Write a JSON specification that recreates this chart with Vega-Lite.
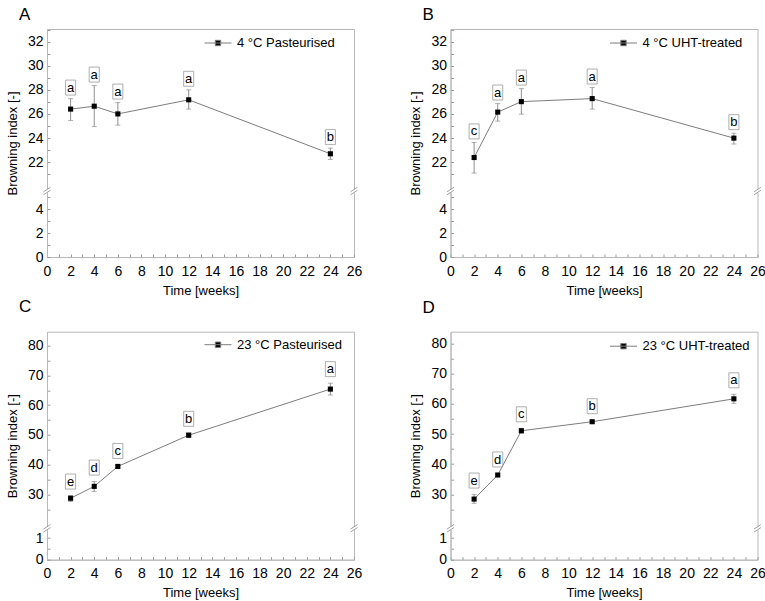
{
  "$schema": "https://vega.github.io/schema/vega-lite/v6.json",
  "background": "white",
  "padding": {"left": 5, "top": 5, "right": 5, "bottom": 0},
  "columns": 2,
  "spacing": {"row": 74.7, "column": 96.5},
  "bounds": "flush",
  "resolve": {"scale": {"color": "independent"}, "legend": {"color": "independent"}},
  "concat": [
    {
      "width": 307,
      "height": 228,
      "title": {"text": "A", "offset": -1},
      "data": {
        "values": [
          {"week": 2, "mean": 26.4, "lo": 25.45, "hi": 27.27, "letter": "a", "series": "4 °C Pasteurised"},
          {"week": 4, "mean": 26.64, "lo": 24.95, "hi": 28.35, "letter": "a", "series": "4 °C Pasteurised"},
          {"week": 6, "mean": 26.0, "lo": 25.07, "hi": 26.94, "letter": "a", "series": "4 °C Pasteurised"},
          {"week": 12, "mean": 27.17, "lo": 26.4, "hi": 28.0, "letter": "a", "series": "4 °C Pasteurised"},
          {"week": 24, "mean": 22.69, "lo": 22.22, "hi": 23.16, "letter": "b", "series": "4 °C Pasteurised"}
        ]
      },
      "layer": [
        {
          "mark": {"type": "line", "color": "#7d7d7d", "strokeWidth": 1},
          "encoding": {
            "x": {"field": "week", "type": "quantitative", "scale": {"domain": [0, 26], "nice": false, "zero": false},
              "axis": {"title": "Time [weeks]", "values": [0,1,2,3,4,5,6,7,8,9,10,11,12,13,14,15,16,17,18,19,20,21,22,23,24,25,26], "labelExpr": "datum.value % 2 == 1 ? '' : datum.label"}},
            "y": {"field": "mean", "type": "quantitative", "scale": {"domain": [0, 5.5, 19.6, 33.05], "range": [228, 162, 162, 0], "nice": false, "zero": false},
              "axis": {"title": "Browning index [-]", "values": [0,1,2,3,4,5,21,22,23,24,25,26,27,28,29,30,31,32,33], "labelExpr": "datum.value % 2 == 1 ? '' : datum.label"}}
          }
        },
        {
          "mark": {"type": "errorbar", "ticks": {"size": 5}, "color": "#8f8f8f", "thickness": 1},
          "encoding": {
            "x": {"field": "week", "type": "quantitative",
              "axis": {"title": "Time [weeks]", "values": [0,1,2,3,4,5,6,7,8,9,10,11,12,13,14,15,16,17,18,19,20,21,22,23,24,25,26], "labelExpr": "datum.value % 2 == 1 ? '' : datum.label"}},
            "y": {"field": "lo", "type": "quantitative",
              "axis": {"title": "Browning index [-]", "values": [0,1,2,3,4,5,21,22,23,24,25,26,27,28,29,30,31,32,33], "labelExpr": "datum.value % 2 == 1 ? '' : datum.label"}},
            "y2": {"field": "hi"}
          }
        },
        {
          "mark": {"type": "point", "shape": "square", "filled": true, "size": 26, "opacity": 1},
          "encoding": {
            "x": {"field": "week", "type": "quantitative",
              "axis": {"title": "Time [weeks]", "values": [0,1,2,3,4,5,6,7,8,9,10,11,12,13,14,15,16,17,18,19,20,21,22,23,24,25,26], "labelExpr": "datum.value % 2 == 1 ? '' : datum.label"}},
            "y": {"field": "mean", "type": "quantitative",
              "axis": {"title": "Browning index [-]", "values": [0,1,2,3,4,5,21,22,23,24,25,26,27,28,29,30,31,32,33], "labelExpr": "datum.value % 2 == 1 ? '' : datum.label"}},
            "color": {"field": "series", "type": "nominal", "scale": {"range": ["#000000"]}, "legend": {"title": null, "orient": "none", "legendX": 157, "legendY": 0}}
          }
        },
        {
          "mark": {"type": "point", "shape": "M-0.67,-2.47H0.67V-0.47H-0.67Z", "size": 225, "filled": false, "stroke": "#9a9a9a", "strokeWidth": 0.8, "opacity": 1},
          "encoding": {
            "x": {"field": "week", "type": "quantitative",
              "axis": {"title": "Time [weeks]", "values": [0,1,2,3,4,5,6,7,8,9,10,11,12,13,14,15,16,17,18,19,20,21,22,23,24,25,26], "labelExpr": "datum.value % 2 == 1 ? '' : datum.label"}},
            "y": {"field": "hi", "type": "quantitative",
              "axis": {"title": "Browning index [-]", "values": [0,1,2,3,4,5,21,22,23,24,25,26,27,28,29,30,31,32,33], "labelExpr": "datum.value % 2 == 1 ? '' : datum.label"}}
          }
        },
        {
          "mark": {"type": "text", "dy": -11, "fontSize": 13, "baseline": "middle", "color": "#000000"},
          "encoding": {
            "x": {"field": "week", "type": "quantitative",
              "axis": {"title": "Time [weeks]", "values": [0,1,2,3,4,5,6,7,8,9,10,11,12,13,14,15,16,17,18,19,20,21,22,23,24,25,26], "labelExpr": "datum.value % 2 == 1 ? '' : datum.label"}},
            "y": {"field": "hi", "type": "quantitative",
              "axis": {"title": "Browning index [-]", "values": [0,1,2,3,4,5,21,22,23,24,25,26,27,28,29,30,31,32,33], "labelExpr": "datum.value % 2 == 1 ? '' : datum.label"}},
            "text": {"field": "letter"}
          }
        },
        {
          "data": {"values": [{"bx": 0}, {"bx": 26}]},
          "mark": {"type": "point", "shape": "M-0.4,-0.35H0.4V0.35H-0.4Z", "size": 100, "filled": true, "color": "#ffffff", "opacity": 1},
          "encoding": {
            "x": {"field": "bx", "type": "quantitative",
              "axis": {"title": "Time [weeks]", "values": [0,1,2,3,4,5,6,7,8,9,10,11,12,13,14,15,16,17,18,19,20,21,22,23,24,25,26], "labelExpr": "datum.value % 2 == 1 ? '' : datum.label"}},
            "y": {"datum": 5.5, "type": "quantitative",
              "axis": {"title": "Browning index [-]", "values": [0,1,2,3,4,5,21,22,23,24,25,26,27,28,29,30,31,32,33], "labelExpr": "datum.value % 2 == 1 ? '' : datum.label"}}
          }
        },
        {
          "data": {"values": [{"bx": 0}, {"bx": 26}]},
          "mark": {"type": "point", "shape": "M-0.7,0.15L0.7,-0.75M-0.7,0.75L0.7,-0.15", "size": 100, "filled": false, "stroke": "#8a8a8a", "strokeWidth": 0.8, "opacity": 1},
          "encoding": {
            "x": {"field": "bx", "type": "quantitative",
              "axis": {"title": "Time [weeks]", "values": [0,1,2,3,4,5,6,7,8,9,10,11,12,13,14,15,16,17,18,19,20,21,22,23,24,25,26], "labelExpr": "datum.value % 2 == 1 ? '' : datum.label"}},
            "y": {"datum": 5.5, "type": "quantitative",
              "axis": {"title": "Browning index [-]", "values": [0,1,2,3,4,5,21,22,23,24,25,26,27,28,29,30,31,32,33], "labelExpr": "datum.value % 2 == 1 ? '' : datum.label"}}
          }
        }
      ]
    },
    {
      "width": 307,
      "height": 228,
      "title": {"text": "B", "offset": -1},
      "data": {
        "values": [
          {"week": 2, "mean": 22.38, "lo": 21.09, "hi": 23.63, "letter": "c", "series": "4 °C UHT-treated"},
          {"week": 4, "mean": 26.15, "lo": 25.4, "hi": 26.86, "letter": "a", "series": "4 °C UHT-treated"},
          {"week": 6, "mean": 27.02, "lo": 25.98, "hi": 28.1, "letter": "a", "series": "4 °C UHT-treated"},
          {"week": 12, "mean": 27.27, "lo": 26.4, "hi": 28.19, "letter": "a", "series": "4 °C UHT-treated"},
          {"week": 24, "mean": 23.99, "lo": 23.5, "hi": 24.4, "letter": "b", "series": "4 °C UHT-treated"}
        ]
      },
      "layer": [
        {
          "mark": {"type": "line", "color": "#7d7d7d", "strokeWidth": 1},
          "encoding": {
            "x": {"field": "week", "type": "quantitative", "scale": {"domain": [0, 26], "nice": false, "zero": false},
              "axis": {"title": "Time [weeks]", "values": [0,1,2,3,4,5,6,7,8,9,10,11,12,13,14,15,16,17,18,19,20,21,22,23,24,25,26], "labelExpr": "datum.value % 2 == 1 ? '' : datum.label"}},
            "y": {"field": "mean", "type": "quantitative", "scale": {"domain": [0, 5.5, 19.6, 33.05], "range": [228, 162, 162, 0], "nice": false, "zero": false},
              "axis": {"title": "Browning index [-]", "values": [0,1,2,3,4,5,21,22,23,24,25,26,27,28,29,30,31,32,33], "labelExpr": "datum.value % 2 == 1 ? '' : datum.label"}}
          }
        },
        {
          "mark": {"type": "errorbar", "ticks": {"size": 5}, "color": "#8f8f8f", "thickness": 1},
          "encoding": {
            "x": {"field": "week", "type": "quantitative",
              "axis": {"title": "Time [weeks]", "values": [0,1,2,3,4,5,6,7,8,9,10,11,12,13,14,15,16,17,18,19,20,21,22,23,24,25,26], "labelExpr": "datum.value % 2 == 1 ? '' : datum.label"}},
            "y": {"field": "lo", "type": "quantitative",
              "axis": {"title": "Browning index [-]", "values": [0,1,2,3,4,5,21,22,23,24,25,26,27,28,29,30,31,32,33], "labelExpr": "datum.value % 2 == 1 ? '' : datum.label"}},
            "y2": {"field": "hi"}
          }
        },
        {
          "mark": {"type": "point", "shape": "square", "filled": true, "size": 26, "opacity": 1},
          "encoding": {
            "x": {"field": "week", "type": "quantitative",
              "axis": {"title": "Time [weeks]", "values": [0,1,2,3,4,5,6,7,8,9,10,11,12,13,14,15,16,17,18,19,20,21,22,23,24,25,26], "labelExpr": "datum.value % 2 == 1 ? '' : datum.label"}},
            "y": {"field": "mean", "type": "quantitative",
              "axis": {"title": "Browning index [-]", "values": [0,1,2,3,4,5,21,22,23,24,25,26,27,28,29,30,31,32,33], "labelExpr": "datum.value % 2 == 1 ? '' : datum.label"}},
            "color": {"field": "series", "type": "nominal", "scale": {"range": ["#000000"]}, "legend": {"title": null, "orient": "none", "legendX": 159, "legendY": 0}}
          }
        },
        {
          "mark": {"type": "point", "shape": "M-0.67,-2.47H0.67V-0.47H-0.67Z", "size": 225, "filled": false, "stroke": "#9a9a9a", "strokeWidth": 0.8, "opacity": 1},
          "encoding": {
            "x": {"field": "week", "type": "quantitative",
              "axis": {"title": "Time [weeks]", "values": [0,1,2,3,4,5,6,7,8,9,10,11,12,13,14,15,16,17,18,19,20,21,22,23,24,25,26], "labelExpr": "datum.value % 2 == 1 ? '' : datum.label"}},
            "y": {"field": "hi", "type": "quantitative",
              "axis": {"title": "Browning index [-]", "values": [0,1,2,3,4,5,21,22,23,24,25,26,27,28,29,30,31,32,33], "labelExpr": "datum.value % 2 == 1 ? '' : datum.label"}}
          }
        },
        {
          "mark": {"type": "text", "dy": -11, "fontSize": 13, "baseline": "middle", "color": "#000000"},
          "encoding": {
            "x": {"field": "week", "type": "quantitative",
              "axis": {"title": "Time [weeks]", "values": [0,1,2,3,4,5,6,7,8,9,10,11,12,13,14,15,16,17,18,19,20,21,22,23,24,25,26], "labelExpr": "datum.value % 2 == 1 ? '' : datum.label"}},
            "y": {"field": "hi", "type": "quantitative",
              "axis": {"title": "Browning index [-]", "values": [0,1,2,3,4,5,21,22,23,24,25,26,27,28,29,30,31,32,33], "labelExpr": "datum.value % 2 == 1 ? '' : datum.label"}},
            "text": {"field": "letter"}
          }
        },
        {
          "data": {"values": [{"bx": 0}, {"bx": 26}]},
          "mark": {"type": "point", "shape": "M-0.4,-0.35H0.4V0.35H-0.4Z", "size": 100, "filled": true, "color": "#ffffff", "opacity": 1},
          "encoding": {
            "x": {"field": "bx", "type": "quantitative",
              "axis": {"title": "Time [weeks]", "values": [0,1,2,3,4,5,6,7,8,9,10,11,12,13,14,15,16,17,18,19,20,21,22,23,24,25,26], "labelExpr": "datum.value % 2 == 1 ? '' : datum.label"}},
            "y": {"datum": 5.5, "type": "quantitative",
              "axis": {"title": "Browning index [-]", "values": [0,1,2,3,4,5,21,22,23,24,25,26,27,28,29,30,31,32,33], "labelExpr": "datum.value % 2 == 1 ? '' : datum.label"}}
          }
        },
        {
          "data": {"values": [{"bx": 0}, {"bx": 26}]},
          "mark": {"type": "point", "shape": "M-0.7,0.15L0.7,-0.75M-0.7,0.75L0.7,-0.15", "size": 100, "filled": false, "stroke": "#8a8a8a", "strokeWidth": 0.8, "opacity": 1},
          "encoding": {
            "x": {"field": "bx", "type": "quantitative",
              "axis": {"title": "Time [weeks]", "values": [0,1,2,3,4,5,6,7,8,9,10,11,12,13,14,15,16,17,18,19,20,21,22,23,24,25,26], "labelExpr": "datum.value % 2 == 1 ? '' : datum.label"}},
            "y": {"datum": 5.5, "type": "quantitative",
              "axis": {"title": "Browning index [-]", "values": [0,1,2,3,4,5,21,22,23,24,25,26,27,28,29,30,31,32,33], "labelExpr": "datum.value % 2 == 1 ? '' : datum.label"}}
          }
        }
      ]
    },
    {
      "width": 307,
      "height": 228,
      "title": {"text": "C", "offset": 15},
      "data": {
        "values": [
          {"week": 2, "mean": 28.7, "lo": 27.6, "hi": 29.6, "letter": "e", "series": "23 °C Pasteurised"},
          {"week": 4, "mean": 32.7, "lo": 31.0, "hi": 34.3, "letter": "d", "series": "23 °C Pasteurised"},
          {"week": 6, "mean": 39.4, "lo": 38.9, "hi": 39.9, "letter": "c", "series": "23 °C Pasteurised"},
          {"week": 12, "mean": 49.9, "lo": 49.1, "hi": 50.7, "letter": "b", "series": "23 °C Pasteurised"},
          {"week": 24, "mean": 65.4, "lo": 63.4, "hi": 67.4, "letter": "a", "series": "23 °C Pasteurised"}
        ]
      },
      "layer": [
        {
          "mark": {"type": "line", "color": "#7d7d7d", "strokeWidth": 1},
          "encoding": {
            "x": {"field": "week", "type": "quantitative", "scale": {"domain": [0, 26], "nice": false, "zero": false},
              "axis": {"title": "Time [weeks]", "values": [0,1,2,3,4,5,6,7,8,9,10,11,12,13,14,15,16,17,18,19,20,21,22,23,24,25,26], "labelExpr": "datum.value % 2 == 1 ? '' : datum.label"}},
            "y": {"field": "mean", "type": "quantitative", "scale": {"domain": [0, 1.46, 18.6, 84.7], "range": [228, 196.6, 196.6, 0], "nice": false, "zero": false},
              "axis": {"title": "Browning index [-]", "values": [0,0.5,1,25,30,35,40,45,50,55,60,65,70,75,80], "labelExpr": "datum.value == 0.5 || datum.value % 10 == 5 ? '' : datum.label"}}
          }
        },
        {
          "mark": {"type": "errorbar", "ticks": {"size": 5}, "color": "#8f8f8f", "thickness": 1},
          "encoding": {
            "x": {"field": "week", "type": "quantitative",
              "axis": {"title": "Time [weeks]", "values": [0,1,2,3,4,5,6,7,8,9,10,11,12,13,14,15,16,17,18,19,20,21,22,23,24,25,26], "labelExpr": "datum.value % 2 == 1 ? '' : datum.label"}},
            "y": {"field": "lo", "type": "quantitative",
              "axis": {"title": "Browning index [-]", "values": [0,0.5,1,25,30,35,40,45,50,55,60,65,70,75,80], "labelExpr": "datum.value == 0.5 || datum.value % 10 == 5 ? '' : datum.label"}},
            "y2": {"field": "hi"}
          }
        },
        {
          "mark": {"type": "point", "shape": "square", "filled": true, "size": 26, "opacity": 1},
          "encoding": {
            "x": {"field": "week", "type": "quantitative",
              "axis": {"title": "Time [weeks]", "values": [0,1,2,3,4,5,6,7,8,9,10,11,12,13,14,15,16,17,18,19,20,21,22,23,24,25,26], "labelExpr": "datum.value % 2 == 1 ? '' : datum.label"}},
            "y": {"field": "mean", "type": "quantitative",
              "axis": {"title": "Browning index [-]", "values": [0,0.5,1,25,30,35,40,45,50,55,60,65,70,75,80], "labelExpr": "datum.value == 0.5 || datum.value % 10 == 5 ? '' : datum.label"}},
            "color": {"field": "series", "type": "nominal", "scale": {"range": ["#000000"]}, "legend": {"title": null, "orient": "none", "legendX": 157, "legendY": -1}}
          }
        },
        {
          "mark": {"type": "point", "shape": "M-0.67,-2.87H0.67V-0.87H-0.67Z", "size": 225, "filled": false, "stroke": "#9a9a9a", "strokeWidth": 0.8, "opacity": 1},
          "encoding": {
            "x": {"field": "week", "type": "quantitative",
              "axis": {"title": "Time [weeks]", "values": [0,1,2,3,4,5,6,7,8,9,10,11,12,13,14,15,16,17,18,19,20,21,22,23,24,25,26], "labelExpr": "datum.value % 2 == 1 ? '' : datum.label"}},
            "y": {"field": "hi", "type": "quantitative",
              "axis": {"title": "Browning index [-]", "values": [0,0.5,1,25,30,35,40,45,50,55,60,65,70,75,80], "labelExpr": "datum.value == 0.5 || datum.value % 10 == 5 ? '' : datum.label"}}
          }
        },
        {
          "mark": {"type": "text", "dy": -14, "fontSize": 13, "baseline": "middle", "color": "#000000"},
          "encoding": {
            "x": {"field": "week", "type": "quantitative",
              "axis": {"title": "Time [weeks]", "values": [0,1,2,3,4,5,6,7,8,9,10,11,12,13,14,15,16,17,18,19,20,21,22,23,24,25,26], "labelExpr": "datum.value % 2 == 1 ? '' : datum.label"}},
            "y": {"field": "hi", "type": "quantitative",
              "axis": {"title": "Browning index [-]", "values": [0,0.5,1,25,30,35,40,45,50,55,60,65,70,75,80], "labelExpr": "datum.value == 0.5 || datum.value % 10 == 5 ? '' : datum.label"}},
            "text": {"field": "letter"}
          }
        },
        {
          "data": {"values": [{"bx": 0}, {"bx": 26}]},
          "mark": {"type": "point", "shape": "M-0.4,-0.35H0.4V0.35H-0.4Z", "size": 100, "filled": true, "color": "#ffffff", "opacity": 1},
          "encoding": {
            "x": {"field": "bx", "type": "quantitative",
              "axis": {"title": "Time [weeks]", "values": [0,1,2,3,4,5,6,7,8,9,10,11,12,13,14,15,16,17,18,19,20,21,22,23,24,25,26], "labelExpr": "datum.value % 2 == 1 ? '' : datum.label"}},
            "y": {"datum": 1.46, "type": "quantitative",
              "axis": {"title": "Browning index [-]", "values": [0,0.5,1,25,30,35,40,45,50,55,60,65,70,75,80], "labelExpr": "datum.value == 0.5 || datum.value % 10 == 5 ? '' : datum.label"}}
          }
        },
        {
          "data": {"values": [{"bx": 0}, {"bx": 26}]},
          "mark": {"type": "point", "shape": "M-0.7,0.15L0.7,-0.75M-0.7,0.75L0.7,-0.15", "size": 100, "filled": false, "stroke": "#8a8a8a", "strokeWidth": 0.8, "opacity": 1},
          "encoding": {
            "x": {"field": "bx", "type": "quantitative",
              "axis": {"title": "Time [weeks]", "values": [0,1,2,3,4,5,6,7,8,9,10,11,12,13,14,15,16,17,18,19,20,21,22,23,24,25,26], "labelExpr": "datum.value % 2 == 1 ? '' : datum.label"}},
            "y": {"datum": 1.46, "type": "quantitative",
              "axis": {"title": "Browning index [-]", "values": [0,0.5,1,25,30,35,40,45,50,55,60,65,70,75,80], "labelExpr": "datum.value == 0.5 || datum.value % 10 == 5 ? '' : datum.label"}}
          }
        }
      ]
    },
    {
      "width": 307,
      "height": 228,
      "title": {"text": "D", "offset": 15},
      "data": {
        "values": [
          {"week": 2, "mean": 28.4, "lo": 27.0, "hi": 29.9, "letter": "e", "series": "23 °C UHT-treated"},
          {"week": 4, "mean": 36.4, "lo": 35.9, "hi": 36.9, "letter": "d", "series": "23 °C UHT-treated"},
          {"week": 6, "mean": 51.1, "lo": 50.3, "hi": 51.9, "letter": "c", "series": "23 °C UHT-treated"},
          {"week": 12, "mean": 54.1, "lo": 53.6, "hi": 54.6, "letter": "b", "series": "23 °C UHT-treated"},
          {"week": 24, "mean": 61.7, "lo": 60.2, "hi": 63.2, "letter": "a", "series": "23 °C UHT-treated"}
        ]
      },
      "layer": [
        {
          "mark": {"type": "line", "color": "#7d7d7d", "strokeWidth": 1},
          "encoding": {
            "x": {"field": "week", "type": "quantitative", "scale": {"domain": [0, 26], "nice": false, "zero": false},
              "axis": {"title": "Time [weeks]", "values": [0,1,2,3,4,5,6,7,8,9,10,11,12,13,14,15,16,17,18,19,20,21,22,23,24,25,26], "labelExpr": "datum.value % 2 == 1 ? '' : datum.label"}},
            "y": {"field": "mean", "type": "quantitative", "scale": {"domain": [0, 1.46, 18.7, 84.0], "range": [228, 196.6, 196.6, 0], "nice": false, "zero": false},
              "axis": {"title": "Browning index [-]", "values": [0,0.5,1,25,30,35,40,45,50,55,60,65,70,75,80], "labelExpr": "datum.value == 0.5 || datum.value % 10 == 5 ? '' : datum.label"}}
          }
        },
        {
          "mark": {"type": "errorbar", "ticks": {"size": 5}, "color": "#8f8f8f", "thickness": 1},
          "encoding": {
            "x": {"field": "week", "type": "quantitative",
              "axis": {"title": "Time [weeks]", "values": [0,1,2,3,4,5,6,7,8,9,10,11,12,13,14,15,16,17,18,19,20,21,22,23,24,25,26], "labelExpr": "datum.value % 2 == 1 ? '' : datum.label"}},
            "y": {"field": "lo", "type": "quantitative",
              "axis": {"title": "Browning index [-]", "values": [0,0.5,1,25,30,35,40,45,50,55,60,65,70,75,80], "labelExpr": "datum.value == 0.5 || datum.value % 10 == 5 ? '' : datum.label"}},
            "y2": {"field": "hi"}
          }
        },
        {
          "mark": {"type": "point", "shape": "square", "filled": true, "size": 26, "opacity": 1},
          "encoding": {
            "x": {"field": "week", "type": "quantitative",
              "axis": {"title": "Time [weeks]", "values": [0,1,2,3,4,5,6,7,8,9,10,11,12,13,14,15,16,17,18,19,20,21,22,23,24,25,26], "labelExpr": "datum.value % 2 == 1 ? '' : datum.label"}},
            "y": {"field": "mean", "type": "quantitative",
              "axis": {"title": "Browning index [-]", "values": [0,0.5,1,25,30,35,40,45,50,55,60,65,70,75,80], "labelExpr": "datum.value == 0.5 || datum.value % 10 == 5 ? '' : datum.label"}},
            "color": {"field": "series", "type": "nominal", "scale": {"range": ["#000000"]}, "legend": {"title": null, "orient": "none", "legendX": 159, "legendY": 0.5}}
          }
        },
        {
          "mark": {"type": "point", "shape": "M-0.67,-2.87H0.67V-0.87H-0.67Z", "size": 225, "filled": false, "stroke": "#9a9a9a", "strokeWidth": 0.8, "opacity": 1},
          "encoding": {
            "x": {"field": "week", "type": "quantitative",
              "axis": {"title": "Time [weeks]", "values": [0,1,2,3,4,5,6,7,8,9,10,11,12,13,14,15,16,17,18,19,20,21,22,23,24,25,26], "labelExpr": "datum.value % 2 == 1 ? '' : datum.label"}},
            "y": {"field": "hi", "type": "quantitative",
              "axis": {"title": "Browning index [-]", "values": [0,0.5,1,25,30,35,40,45,50,55,60,65,70,75,80], "labelExpr": "datum.value == 0.5 || datum.value % 10 == 5 ? '' : datum.label"}}
          }
        },
        {
          "mark": {"type": "text", "dy": -14, "fontSize": 13, "baseline": "middle", "color": "#000000"},
          "encoding": {
            "x": {"field": "week", "type": "quantitative",
              "axis": {"title": "Time [weeks]", "values": [0,1,2,3,4,5,6,7,8,9,10,11,12,13,14,15,16,17,18,19,20,21,22,23,24,25,26], "labelExpr": "datum.value % 2 == 1 ? '' : datum.label"}},
            "y": {"field": "hi", "type": "quantitative",
              "axis": {"title": "Browning index [-]", "values": [0,0.5,1,25,30,35,40,45,50,55,60,65,70,75,80], "labelExpr": "datum.value == 0.5 || datum.value % 10 == 5 ? '' : datum.label"}},
            "text": {"field": "letter"}
          }
        },
        {
          "data": {"values": [{"bx": 0}, {"bx": 26}]},
          "mark": {"type": "point", "shape": "M-0.4,-0.35H0.4V0.35H-0.4Z", "size": 100, "filled": true, "color": "#ffffff", "opacity": 1},
          "encoding": {
            "x": {"field": "bx", "type": "quantitative",
              "axis": {"title": "Time [weeks]", "values": [0,1,2,3,4,5,6,7,8,9,10,11,12,13,14,15,16,17,18,19,20,21,22,23,24,25,26], "labelExpr": "datum.value % 2 == 1 ? '' : datum.label"}},
            "y": {"datum": 1.46, "type": "quantitative",
              "axis": {"title": "Browning index [-]", "values": [0,0.5,1,25,30,35,40,45,50,55,60,65,70,75,80], "labelExpr": "datum.value == 0.5 || datum.value % 10 == 5 ? '' : datum.label"}}
          }
        },
        {
          "data": {"values": [{"bx": 0}, {"bx": 26}]},
          "mark": {"type": "point", "shape": "M-0.7,0.15L0.7,-0.75M-0.7,0.75L0.7,-0.15", "size": 100, "filled": false, "stroke": "#8a8a8a", "strokeWidth": 0.8, "opacity": 1},
          "encoding": {
            "x": {"field": "bx", "type": "quantitative",
              "axis": {"title": "Time [weeks]", "values": [0,1,2,3,4,5,6,7,8,9,10,11,12,13,14,15,16,17,18,19,20,21,22,23,24,25,26], "labelExpr": "datum.value % 2 == 1 ? '' : datum.label"}},
            "y": {"datum": 1.46, "type": "quantitative",
              "axis": {"title": "Browning index [-]", "values": [0,0.5,1,25,30,35,40,45,50,55,60,65,70,75,80], "labelExpr": "datum.value == 0.5 || datum.value % 10 == 5 ? '' : datum.label"}}
          }
        }
      ]
    }
  ],
  "config": {
    "font": "Liberation Sans",
    "view": {"stroke": "#b8b8b8", "strokeWidth": 1},
    "axis": {
      "grid": false,
      "domainColor": "#b8b8b8",
      "tickColor": "#9a9a9a",
      "tickSize": -3,
      "labelFont": "Liberation Sans",
      "labelFontSize": 14,
      "labelColor": "#000000",
      "labelOverlap": false,
      "labelFlush": false,
      "titleFont": "Liberation Sans",
      "titleFontSize": 13,
      "titleFontWeight": "normal",
      "titleColor": "#000000"
    },
    "axisX": {"labelPadding": 10, "titlePadding": 6},
    "axisY": {"labelPadding": 7, "titlePadding": 8},
    "title": {"font": "Liberation Sans", "fontSize": 17, "fontWeight": "normal", "color": "#000000", "anchor": "start", "frame": "group", "baseline": "alphabetic", "dx": -28},
    "legend": {
      "padding": 0,
      "symbolType": "M-1,0H1M-0.2,-0.2H0.2V0.2H-0.2Z",
      "symbolSize": 729,
      "symbolStrokeWidth": 1,
      "symbolStrokeColor": "#7d7d7d",
      "symbolFillColor": "#000000",
      "labelFont": "Liberation Sans",
      "labelFontSize": 13,
      "labelColor": "#000000",
      "labelOffset": 5
    }
  }
}
